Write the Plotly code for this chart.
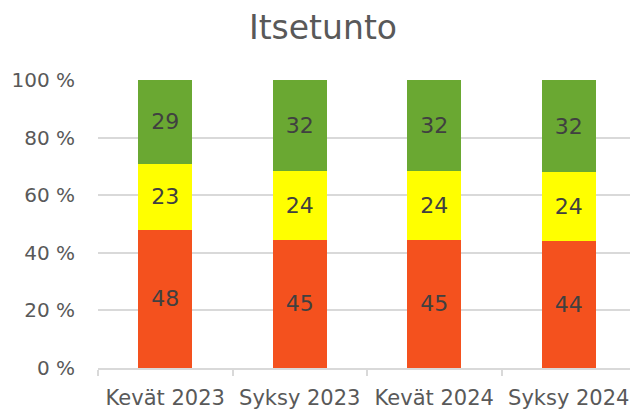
import plotly.graph_objects as go

categories = ["Kevät 2023", "Syksy 2023", "Kevät 2024", "Syksy 2024"]
series_names = ["Heikko", "Kohtalainen", "Hyvä"]
low_values = [48, 45, 45, 44]
mid_values = [23, 24, 24, 24]
high_values = [29, 32, 32, 32]
colors = ["#F4511E", "#FFFF00", "#6AA832"]
y_ticks = [0, 20, 40, 60, 80, 100]
y_tick_labels = ["0 %", "20 %", "40 %", "60 %", "80 %", "100 %"]

FONT = "DejaVu Sans"

fig = go.Figure()
for name, vals, col in zip(series_names, [low_values, mid_values, high_values], colors):
    fig.add_trace(go.Bar(
        x=categories, y=vals, name=name, marker=dict(color=col, line=dict(width=0)),
        text=[str(v) for v in vals], textposition="inside", insidetextanchor="middle",
        textangle=0, constraintext="none",
        textfont=dict(family=FONT, size=22, color="#404040"),
        hoverinfo="skip",
    ))

# page body has an 8px margin, so the figure is sized/offset to compensate
fig.update_layout(
    barmode="stack", barnorm="percent", bargap=0.6,
    width=630, height=408,
    margin=dict(l=90, r=2, t=72, b=48, autoexpand=False),
    paper_bgcolor="white", plot_bgcolor="white",
    showlegend=False,
    title=dict(text="Itsetunto", x=0.5, xanchor="center", y=0.952, yanchor="middle",
               font=dict(family=FONT, size=33, color="#595959")),
    font=dict(family=FONT, color="#595959"),
)
fig.update_yaxes(range=[0, 100], tickmode="array", tickvals=y_ticks, ticktext=y_tick_labels,
                 gridcolor="#D9D9D9", gridwidth=1.5, showline=False, zeroline=False,
                 tickfont=dict(family=FONT, size=20, color="#595959"), ticklen=0,
                 ticks="", ticklabelstandoff=22, automargin=False)
fig.update_xaxes(showline=True, linecolor="#D9D9D9", linewidth=1.5,
                 ticks="outside", tickson="boundaries", ticklen=6, tickcolor="#D9D9D9",
                 tickwidth=1.5, automargin=False, ticklabelstandoff=10,
                 tickfont=dict(family=FONT, size=21, color="#595959"))

fig.write_html("out.html")
